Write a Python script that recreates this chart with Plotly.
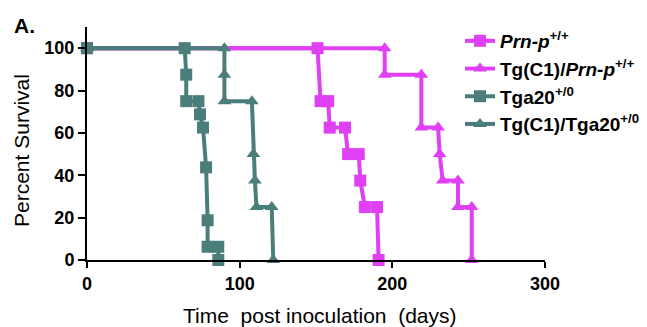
import plotly.graph_objects as go

# ---- data (days, percent survival) ----
prn_days = [0, 151, 153, 158, 159, 169, 171, 178, 179, 182, 190, 191]
prn_surv = [100, 100, 75, 75, 62.5, 62.5, 50, 50, 37.5, 25, 25, 0]

tgc1_prn_days = [0, 195, 195, 219, 219, 230, 231, 233, 243, 243, 252, 252]
tgc1_prn_surv = [100, 100, 87.5, 87.5, 62.5, 62.5, 50, 37.5, 37.5, 25, 25, 0]

tga20_days = [0, 64, 65, 65, 73, 74, 76, 78, 79, 79, 86, 86]
tga20_surv = [100, 100, 87.5, 75, 75, 68.75, 62.5, 43.75, 18.75, 6.25, 6.25, 0]

tgc1_tga20_days = [0, 90, 90, 90, 108, 109, 110, 111, 121, 122]
tgc1_tga20_surv = [100, 100, 87.5, 75, 75, 50, 37.5, 25, 25, 0]

series_names = [
    "<i>Prn-p</i><sup>+/+</sup>",
    "Tg(C1)/<i>Prn-p</i><sup>+/+</sup>",
    "Tga20<sup>+/0</sup>",
    "Tg(C1)/Tga20<sup>+/0</sup>",
]
x_ticks = [0, 100, 200, 300]
y_ticks = [0, 20, 40, 60, 80, 100]

MAGENTA = "#E040F4"
TEAL = "#4A7E7A"
FONT = "Liberation Sans, Arial, sans-serif"

series = [
    (prn_days, prn_surv, MAGENTA, "square"),
    (tgc1_prn_days, tgc1_prn_surv, MAGENTA, "triangle-up"),
    (tga20_days, tga20_surv, TEAL, "square"),
    (tgc1_tga20_days, tgc1_tga20_surv, TEAL, "triangle-up"),
]

fig = go.Figure()
for i, ((xs, ys, col, sym), name) in enumerate(zip(series, series_names)):
    fig.add_trace(go.Scatter(
        x=xs, y=ys, name=name, mode="lines+markers",
        line=dict(color=col, width=4),
        marker=dict(symbol=sym, size=12, color=col),
        cliponaxis=False, legendgroup=f"g{i}",
    ))

L, R, T, B = 87, 102, 27, 67
W, H = 647, 327
pw, ph = W - L - R, H - T - B

def px(x):
    return (x - L) / pw

def py(y):
    return (H - B - y) / ph

fig.update_layout(
    width=W, height=H,
    margin=dict(l=L, r=R, t=T, b=B, autoexpand=False),
    paper_bgcolor="white", plot_bgcolor="white",
    font=dict(family=FONT, color="black"),
    showlegend=True,
    legend=dict(
        x=px(460), y=py(22), xanchor="left", yanchor="top",
        font=dict(family=FONT, size=19, color="black", weight="bold"),
        bgcolor="rgba(0,0,0,0)", tracegroupgap=0,
    ),
    xaxis=dict(
        range=[0, 300], tickvals=x_ticks, ticktext=[str(v) for v in x_ticks],
        showline=True, linecolor="black", linewidth=2,
        ticks="outside", ticklen=6, tickwidth=2, tickcolor="black",
        showgrid=False, zeroline=False, automargin=False,
        tickfont=dict(family=FONT, size=18, color="black", weight="bold"),
    ),
    yaxis=dict(
        range=[0, 110], tickvals=y_ticks, ticktext=[str(v) for v in y_ticks],
        showline=True, linecolor="black", linewidth=2,
        ticks="outside", ticklen=7, tickwidth=2, tickcolor="black",
        showgrid=False, zeroline=False, automargin=False,
        tickfont=dict(family=FONT, size=18, color="black", weight="bold"),
    ),
    annotations=[
        dict(text="<b>A.</b>", xref="paper", yref="paper", x=px(12), y=py(25),
             xanchor="left", yanchor="middle", showarrow=False,
             font=dict(family=FONT, size=21, color="black")),
        dict(text="Percent Survival", xref="paper", yref="paper", x=px(21), y=py(151),
             xanchor="center", yanchor="middle", textangle=-90, showarrow=False,
             font=dict(family=FONT, size=21, color="black")),
        dict(text="Time\u00a0\u00a0post inoculation\u00a0\u00a0(days)", xref="paper", yref="paper",
             x=px(320), y=py(315), xanchor="center", yanchor="middle", showarrow=False,
             font=dict(family=FONT, size=21, color="black")),
    ],
)

fig.write_html(
    "out.html",
    config={"displayModeBar": False},
    post_script="document.body.style.margin='0';document.body.style.padding='0';",
)
